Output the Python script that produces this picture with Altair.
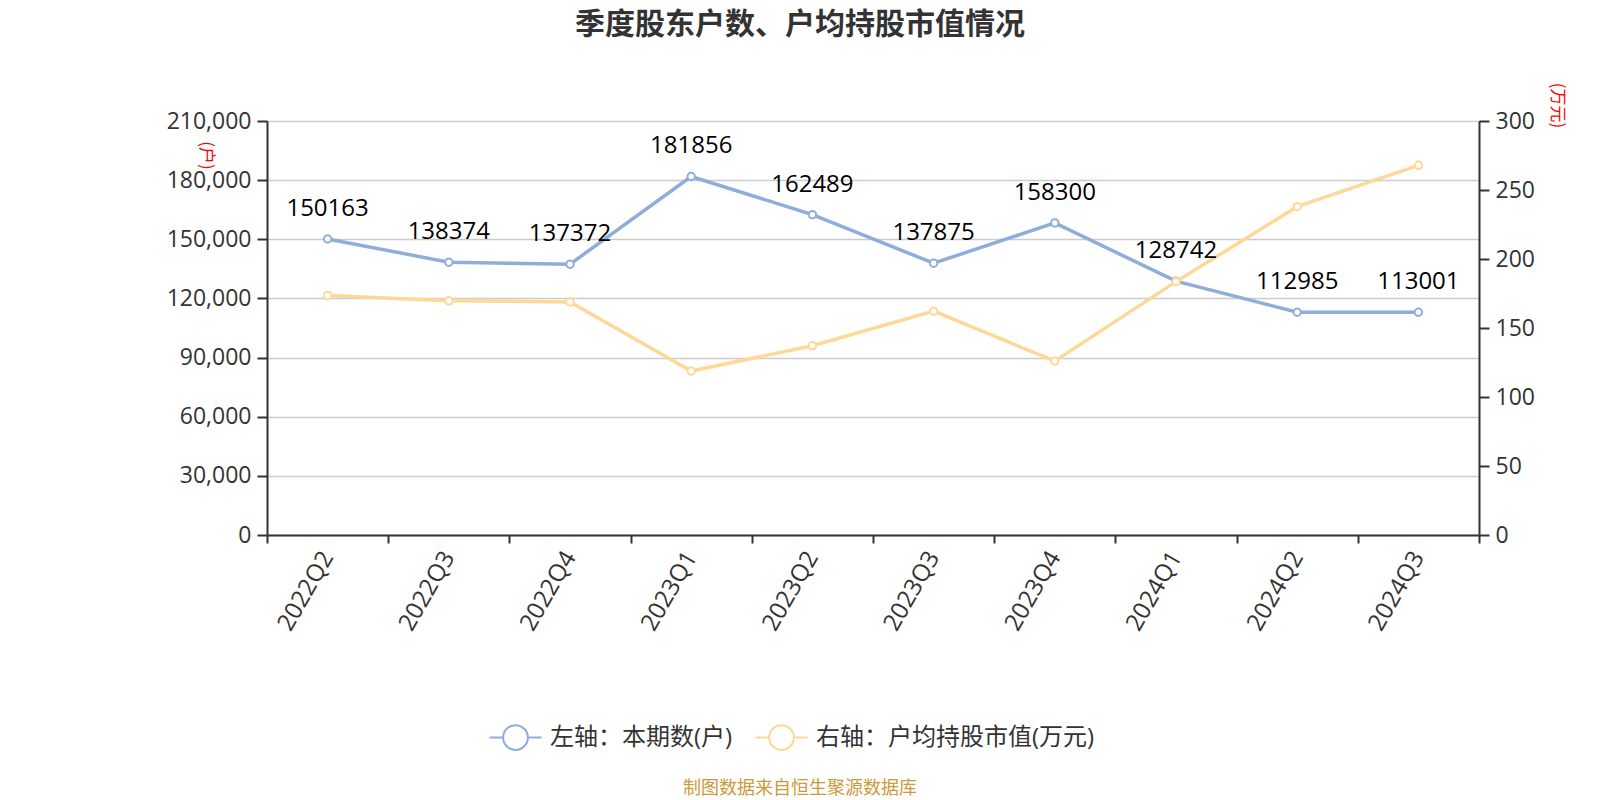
import altair as alt
import pandas as pd

quarters = ["2022Q2", "2022Q3", "2022Q4", "2023Q1", "2023Q2", "2023Q3",
            "2023Q4", "2024Q1", "2024Q2", "2024Q3"]
holders = [150163, 138374, 137372, 181856, 162489, 137875, 158300, 128742, 112985, 113001]
avg_value = [173.6, 169.7, 168.9, 118.8, 137.1, 162.2, 126.0, 183.6, 237.9, 267.9]
series_names = ["左轴：本期数(户)", "右轴：户均持股市值(万元)"]
colors = ["#8FADDB", "#FFD897"]
left_ticks = [0, 30000, 60000, 90000, 120000, 150000, 180000, 210000]
right_ticks = [0, 50, 100, 150, 200, 250, 300]
title_text = "季度股东户数、户均持股市值情况"
footer_text = "制图数据来自恒生聚源数据库"

FONT = "Open Sans, Noto Sans CJK SC"
CJK = "Noto Sans CJK SC"
W, H = 1212, 414
PAD_L, PAD_T = 267, 121

left_df = pd.DataFrame({"q": quarters, "v": holders, "s": series_names[0]})
right_df = pd.DataFrame({"q": quarters, "v": avg_value, "s": series_names[1]})
footer_df = pd.DataFrame({"t": [footer_text]})

legend_path = ("M-2,0L-0.95,0M0.95,0L2,0M-0.95,0A0.95,0.95,0,1,1,0.95,0"
               "A0.95,0.95,0,1,1,-0.95,0Z")

x_enc = alt.X(
    "q:N", sort=quarters, bandPosition=0.5,
    scale=alt.Scale(type="band", paddingInner=0, paddingOuter=0),
    axis=alt.Axis(title=None, labelAngle=300, labelAlign="right", labelBaseline="middle",
                  tickBand="extent", grid=False, domainColor="#333", domainWidth=2,
                  tickColor="#333", tickWidth=2, tickSize=8, labelFontSize=24,
                  labelColor="#333", labelPadding=10, labelFont=FONT),
)

color_enc = alt.Color(
    "s:N",
    scale=alt.Scale(domain=series_names, range=colors),
    legend=alt.Legend(orient="none", legendX=234, legendY=602, direction="horizontal",
                      title=None, labelFontSize=24, labelColor="#333", labelFont=FONT,
                      labelLimit=0, symbolType=legend_path, symbolSize=680,
                      symbolStrokeWidth=2, symbolFillColor="white", labelOffset=20,
                      columnPadding=18),
)

y_left = alt.Y(
    "v:Q", scale=alt.Scale(domain=[0, 210000], nice=False, zero=True),
    axis=alt.Axis(values=left_ticks, format=",d", title="(户)", titleAngle=90,
                  titleX=-62, titleY=34, titleColor="red", titleFontSize=17,
                  titleFontWeight="normal", titleAlign="center", titleBaseline="middle",
                  titleFont=CJK, gridColor="#cccccc", gridWidth=1.5,
                  domainColor="#333", domainWidth=2, tickColor="#333", tickWidth=2,
                  tickSize=10, labelPadding=6, labelFontSize=23, labelColor="#333",
                  labelFont=FONT),
)
y_right = alt.Y(
    "v:Q", scale=alt.Scale(domain=[0, 300], nice=False, zero=True),
    axis=alt.Axis(orient="right", values=right_ticks, format="d", title="(万元)",
                  titleAngle=90, titleX=77, titleY=-16, titleColor="red", titleFontSize=17,
                  titleFontWeight="normal", titleAlign="center", titleBaseline="middle",
                  titleFont=CJK, grid=False, domainColor="#333", domainWidth=2,
                  tickColor="#333", tickWidth=2, tickSize=10, labelPadding=6,
                  labelFontSize=23, labelColor="#333", labelFont=FONT),
)
y_label = alt.Y("v:Q", scale=alt.Scale(domain=[0, 210000], nice=False), axis=None)

blue_line = alt.Chart(left_df).mark_line(strokeWidth=3.5).encode(x=x_enc, y=y_left, color=color_enc)
blue_pts = alt.Chart(left_df).mark_point(shape="circle", filled=True, fill="white",
                                         stroke=colors[0], strokeWidth=2, size=55,
                                         opacity=1).encode(x=x_enc, y=y_left)
left_layer = alt.layer(blue_line, blue_pts)

orange_line = alt.Chart(right_df).mark_line(strokeWidth=3.5).encode(x=x_enc, y=y_right, color=color_enc)
orange_pts = alt.Chart(right_df).mark_point(shape="circle", filled=True, fill="white",
                                            stroke=colors[1], strokeWidth=2, size=55,
                                            opacity=1).encode(x=x_enc, y=y_right)
right_layer = alt.layer(orange_line, orange_pts)

labels = alt.Chart(left_df).mark_text(dy=-30, fontSize=24, color="black", font=FONT).encode(
    x=x_enc, y=y_label, text=alt.Text("v:Q", format="d"))

footer = alt.Chart(footer_df).mark_text(fontSize=18, color="#CC9A3A", font=CJK,
                                        align="center", baseline="middle").encode(
    x=alt.value(800 - PAD_L), y=alt.value(789 - PAD_T), text="t:N")

chart = alt.layer(left_layer, right_layer, labels, footer).resolve_scale(
    y="independent"
).properties(
    width=W, height=H,
    title=alt.TitleParams(title_text, fontSize=30, fontWeight="bold", color="#333",
                          font=CJK, anchor="middle", frame="group", dx=-73, offset=42),
    autosize=alt.AutoSizeParams(type="none"),
    padding={"left": PAD_L, "top": PAD_T, "right": 1600 - PAD_L - W, "bottom": 800 - PAD_T - H},
).configure_view(stroke=None).configure(background="white")

chart.save("out.html", embed_options={"renderer": "svg", "actions": False})
